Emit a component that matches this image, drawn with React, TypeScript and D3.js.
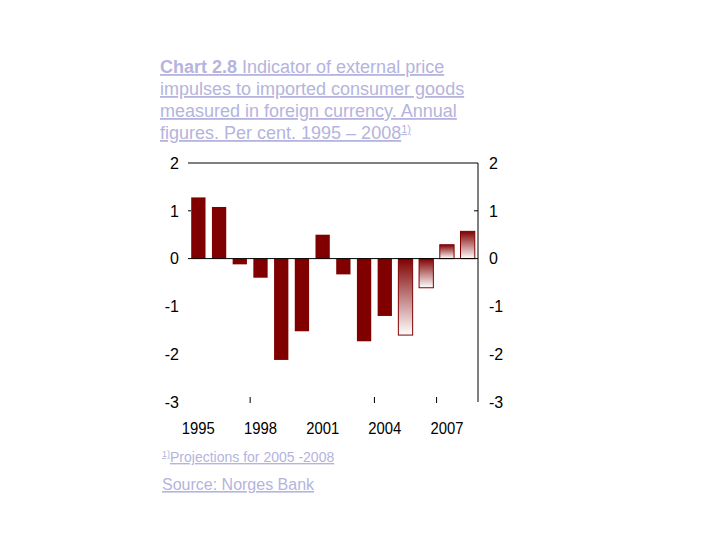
import * as d3 from 'd3';

const YEARS = ['1995', '1996', '1997', '1998', '1999', '2000', '2001', '2002', '2003', '2004', '2005', '2006', '2007', '2008'];
const VALUES = [1.28, 1.08, -0.12, -0.4, -2.12, -1.52, 0.5, -0.33, -1.73, -1.2, -1.6, -0.61, 0.29, 0.57];
const PROJECTED = ['2005', '2006', '2007', '2008'];
const Y_TICKS = [2, 1, 0, -1, -2, -3];
const X_LABELS = ['1995', '1998', '2001', '2004', '2007'];
const TITLE_LINES = [
  'Indicator of external price',
  'impulses to imported consumer goods',
  'measured in foreign currency. Annual',
  'figures. Per cent. 1995 – 2008',
];

const W = 720;
const H = 540;
const PLOT = { left: 188, right: 478, top: 163, bottom: 402 };
const DARK = '#800000';
const TEXT_BLUE = '#b4b4de';
const FONT = '"Liberation Sans", Arial, sans-serif';

export default function App() {
  const x = d3
    .scaleBand<string>()
    .domain(YEARS)
    .range([PLOT.left, PLOT.right])
    .paddingInner(0.31)
    .paddingOuter(0.155);

  const y = d3.scaleLinear().domain([-3, 2]).range([PLOT.bottom, PLOT.top]);
  const step = x.step();

  // boundary ticks on the category axis (every third year)
  const bottomTicks = [3, 9, 12].map((k) => PLOT.left + k * step);

  return (
    <svg
      width={W}
      height={H}
      style={{ position: 'absolute', left: 0, top: 0, background: '#fff' }}
      fontFamily={FONT}
    >
      <defs>
        <linearGradient id="proj" x1="0" y1="0" x2="0" y2="1">
          <stop offset="0%" stopColor={DARK} />
          <stop offset="100%" stopColor="#ffffff" />
        </linearGradient>
      </defs>

      {/* Title */}
      <text x={160} y={73} fontSize={18} fill={TEXT_BLUE} textDecoration="underline">
        <tspan fontWeight="bold">Chart 2.8</tspan>
        <tspan> {TITLE_LINES[0]}</tspan>
      </text>
      {TITLE_LINES.slice(1).map((line, i) => (
        <text
          key={line}
          x={160}
          y={95 + i * 22}
          fontSize={18}
          fill={TEXT_BLUE}
          textDecoration="underline"
        >
          {line}
          {i === 2 && (
            <tspan fontSize={11} dy={-6}>
              1)
            </tspan>
          )}
        </text>
      ))}

      {/* Frame lines */}
      <line x1={PLOT.left} x2={PLOT.right} y1={y(2)} y2={y(2)} stroke="#000" />
      <line x1={PLOT.right} x2={PLOT.right} y1={y(2)} y2={y(-3)} stroke="#000" />
      <line x1={PLOT.left} x2={PLOT.left + 3} y1={y(1)} y2={y(1)} stroke="#000" />
      <line x1={PLOT.right - 4} x2={PLOT.right} y1={y(1)} y2={y(1)} stroke="#000" />
      {bottomTicks.map((t) => (
        <line key={t} x1={t} x2={t} y1={y(-3) - 5} y2={y(-3) + 1} stroke="#000" />
      ))}

      {/* Bars */}
      {YEARS.map((yr, i) => {
        const v = VALUES[i];
        const proj = PROJECTED.includes(yr);
        const top = y(Math.max(0, v));
        const h = Math.abs(y(v) - y(0));
        return (
          <rect
            key={yr}
            x={x(yr)}
            y={top}
            width={x.bandwidth()}
            height={h}
            fill={proj ? 'url(#proj)' : DARK}
            stroke={proj ? DARK : 'none'}
            strokeWidth={1}
          />
        );
      })}

      {/* Zero line */}
      <line x1={PLOT.left} x2={PLOT.right} y1={y(0)} y2={y(0)} stroke="#000" />

      {/* Y labels */}
      {Y_TICKS.map((t) => (
        <g key={t} fontSize={16} fill="#000">
          <text x={179} y={y(t)} dy="0.36em" textAnchor="end">
            {t}
          </text>
          <text x={489} y={y(t)} dy="0.36em" textAnchor="start">
            {t}
          </text>
        </g>
      ))}

      {/* X labels */}
      {X_LABELS.map((yr) => (
        <text
          key={yr}
          x={(x(yr) ?? 0) + x.bandwidth() / 2}
          y={434}
          fontSize={17}
          textAnchor="middle"
          textLength={33}
          lengthAdjust="spacingAndGlyphs"
        >
          {yr}
        </text>
      ))}

      {/* Footnote and source */}
      <text x={162} y={462} fontSize={14} fill={TEXT_BLUE} textDecoration="underline">
        <tspan fontSize={9} dy={-5}>
          1)
        </tspan>
        <tspan dy={5}>Projections for 2005 -2008</tspan>
      </text>
      <text x={162} y={490} fontSize={16} fill={TEXT_BLUE} textDecoration="underline">
        Source: Norges Bank
      </text>
    </svg>
  );
}
